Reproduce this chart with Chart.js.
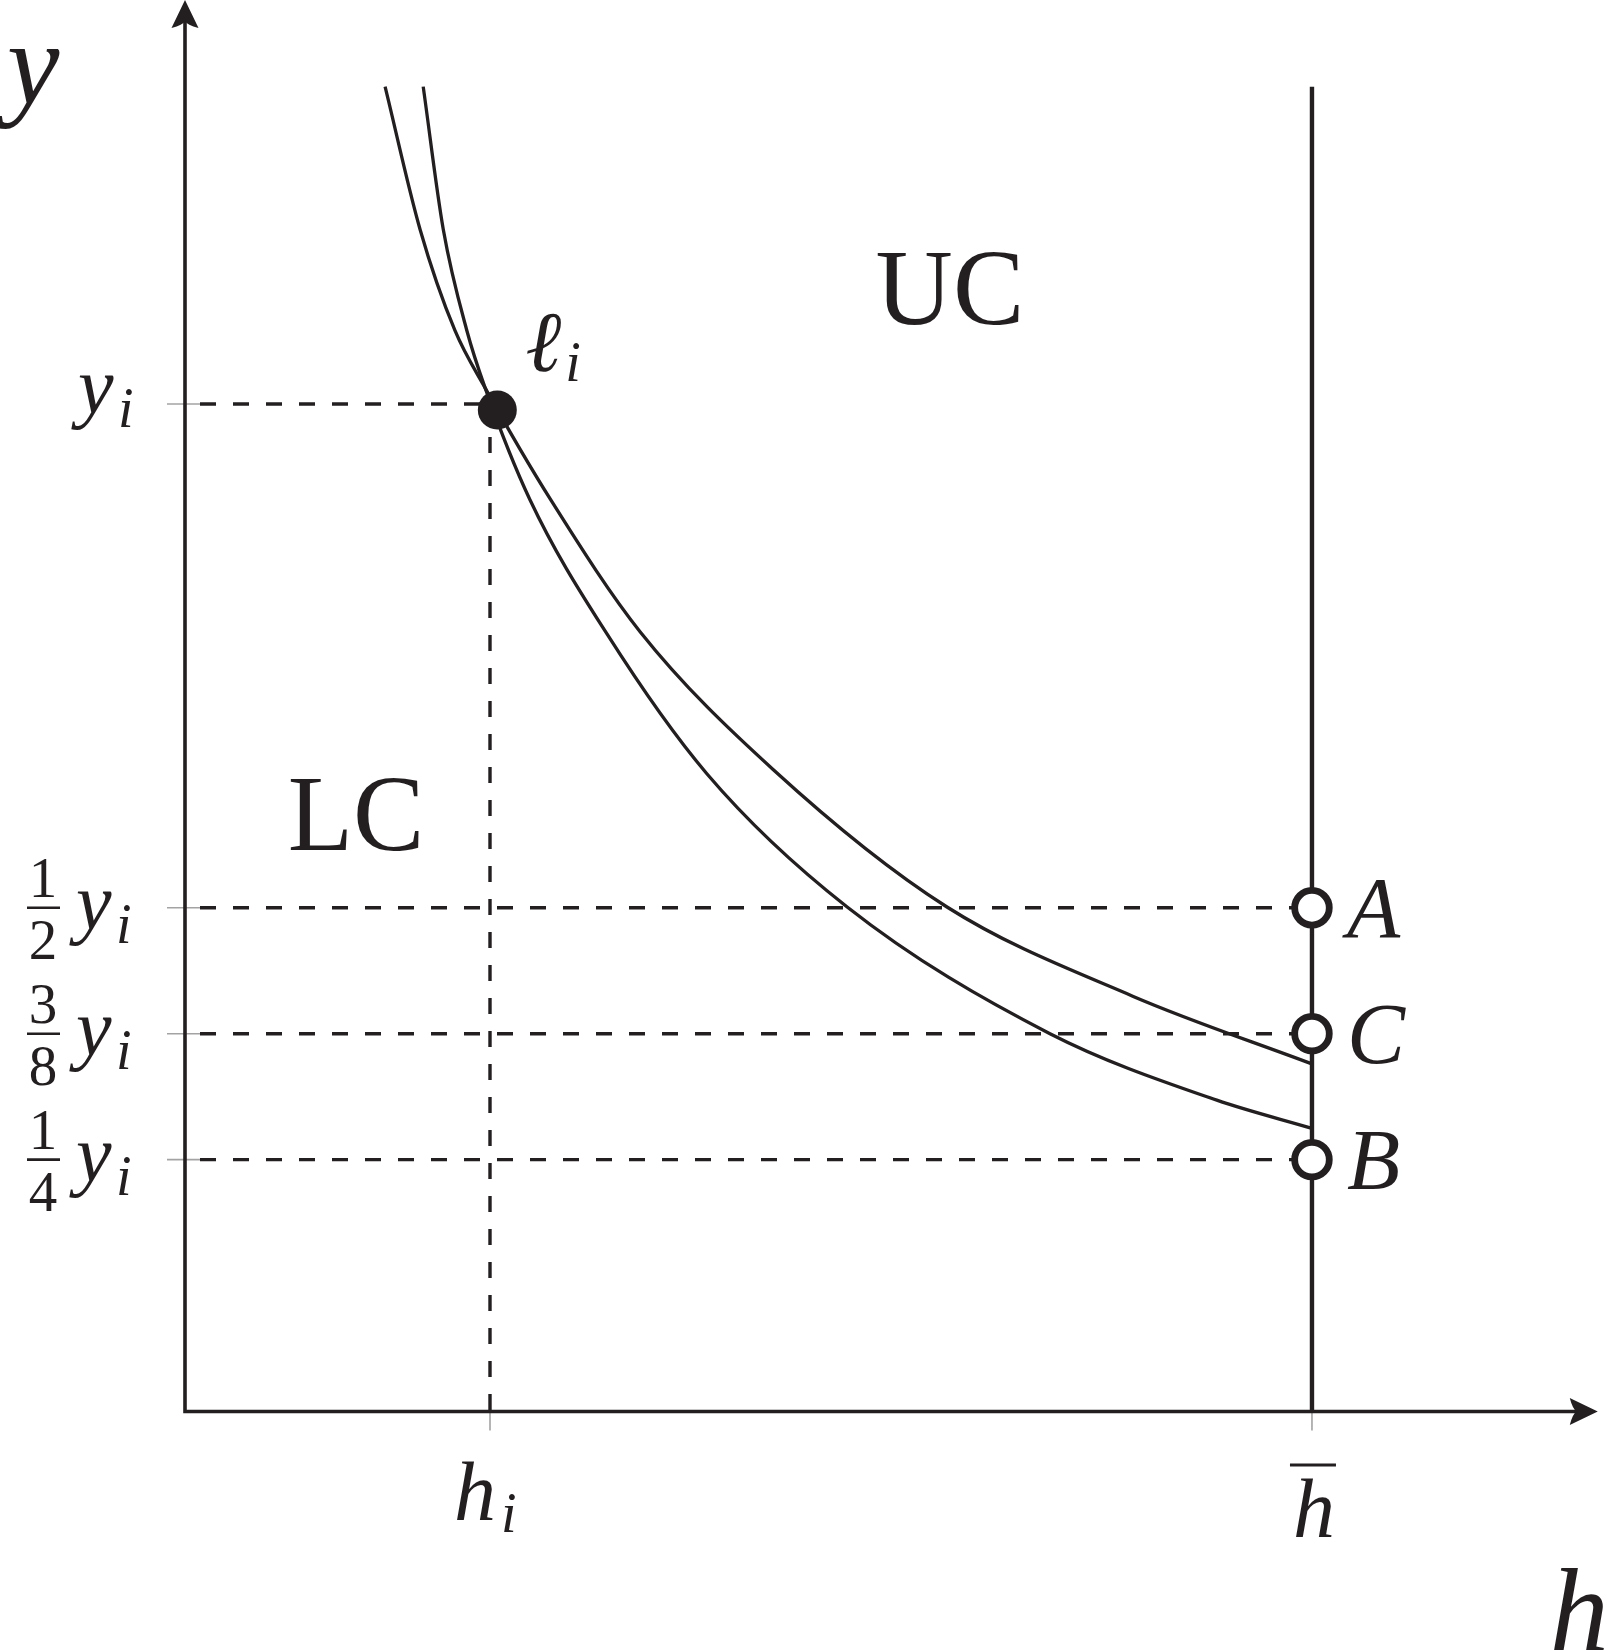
<!DOCTYPE html>
<html><head><meta charset="utf-8">
<script src="https://cdn.jsdelivr.net/npm/chart.js@4.4.1/dist/chart.umd.min.js"></script>
<style>html,body{margin:0;padding:0;background:#fff;}#wrap{width:1608px;height:1650px;position:relative;}</style>
</head><body><div id="wrap"><canvas id="c"></canvas></div>
<script>
// ---- data (h in units of h_i, y in units of y_i) ----
const upperCurveH = [0.656, 0.771, 0.885, 0.984, 1.203, 1.492, 1.929, 2.497, 3.109, 3.695];
const upperCurveY = [1.315, 1.173, 1.073, 1.016, 0.903, 0.774, 0.637, 0.501, 0.412, 0.345];
const lowerCurveH = [0.781, 0.847, 0.924, 0.984, 1.131, 1.383, 1.711, 2.170, 2.836, 3.383, 3.695];
const lowerCurveY = [1.315, 1.173, 1.073, 1.016, 0.905, 0.772, 0.633, 0.501, 0.375, 0.309, 0.281];
const hI = 1;
const yI = 1;
const hBar = 3.695;
const barTop = 1.315;
const yTickValues = [1, 0.5, 0.375, 0.25];
const yTickNumerators = [null, '1', '3', '1'];
const yTickDenominators = [null, '2', '8', '4'];
const hTickValues = [hI, hBar];
const hTickLabels = ['h', 'h'];
const hTickSubs = ['i', ''];
const markerValues = [0.5, 0.375, 0.25];
const markerNames = ['A', 'C', 'B'];
const pointLiH = [1.024];
const pointLiY = [0.994];
const regionNames = ['LC', 'UC'];
const regionH = [0.561, 2.508];
const regionY = [0.557, 1.079];
const axisEnds = {x: 4.632, y: 1.401};

const INK = '#231f20';
const SERIF = '"Liberation Serif", "DejaVu Serif", serif';
const MI = s => 'italic ' + s + 'px ' + SERIF;
const RM = s => s + 'px ' + SERIF;

const pts = (hs, ys) => hs.map((h, i) => ({x: h, y: ys[i]}));

const datasets = [
  {label: 'li', data: pts(pointLiH, pointLiY), pointRadius: 19.5, pointBackgroundColor: INK, pointBorderWidth: 0, showLine: false, order: 0},
  {label: 'markers', data: markerValues.map(v => ({x: hBar, y: v})), pointRadius: 17.3, pointBackgroundColor: '#ffffff', pointBorderColor: INK, pointBorderWidth: 6.8, showLine: false, order: 0},
  {label: 'upper', data: pts(upperCurveH, upperCurveY), showLine: true, borderColor: INK, borderWidth: 3.3, pointRadius: 0, cubicInterpolationMode: 'monotone', order: 2},
  {label: 'lower', data: pts(lowerCurveH, lowerCurveY), showLine: true, borderColor: INK, borderWidth: 3.3, pointRadius: 0, cubicInterpolationMode: 'monotone', order: 2},
  {label: 'hbar', data: [{x: hBar, y: 0}, {x: hBar, y: barTop}], showLine: true, borderColor: INK, borderWidth: 4.4, pointRadius: 0, order: 3},
  {label: 'dashYi', data: [{x: 0, y: yI}, {x: hI, y: yI}], showLine: true, borderColor: INK, borderWidth: 3.4, borderDash: [16, 17], borderDashOffset: 18, pointRadius: 0, order: 4},
  {label: 'dashHi', data: [{x: hI, y: yI}, {x: hI, y: 0}], showLine: true, borderColor: INK, borderWidth: 3.4, borderDash: [16, 17], pointRadius: 0, order: 4}
];
markerValues.forEach((v, i) => datasets.push({label: 'dash' + i, data: [{x: 0, y: v}, {x: hBar, y: v}], showLine: true, borderColor: INK, borderWidth: 3.4, borderDash: [16, 17], borderDashOffset: 18, pointRadius: 0, order: 4}));

function arrow(ctx, tx, ty, dx, dy) {
  const L = 28, W = 13.5, N = 7;
  const nx = -dy, ny = dx;
  ctx.beginPath();
  ctx.moveTo(tx, ty);
  ctx.lineTo(tx - L * dx + W * nx, ty - L * dy + W * ny);
  ctx.quadraticCurveTo(tx - (L - 3) * dx + 2 * nx, ty - (L - 3) * dy + 2 * ny, tx - (L - N) * dx, ty - (L - N) * dy);
  ctx.quadraticCurveTo(tx - (L - 3) * dx - 2 * nx, ty - (L - 3) * dy - 2 * ny, tx - L * dx - W * nx, ty - L * dy - W * ny);
  ctx.closePath();
  ctx.fill();
}

const decor = {
  id: 'decor',
  beforeDatasetsDraw(chart) {
    const ctx = chart.ctx, xs = chart.scales.x, ys = chart.scales.y;
    const x0 = xs.getPixelForValue(0), y0 = ys.getPixelForValue(0);
    const xTip = xs.getPixelForValue(axisEnds.x), yTip = ys.getPixelForValue(axisEnds.y);
    ctx.save();
    ctx.strokeStyle = '#a3a3a3'; ctx.lineWidth = 1.6;
    yTickValues.forEach(v => { const p = ys.getPixelForValue(v); ctx.beginPath(); ctx.moveTo(x0 - 18, p); ctx.lineTo(x0 + 15, p); ctx.stroke(); });
    hTickValues.forEach(v => { const p = xs.getPixelForValue(v); ctx.beginPath(); ctx.moveTo(p, y0 - 16); ctx.lineTo(p, y0 + 19); ctx.stroke(); });
    ctx.strokeStyle = INK; ctx.fillStyle = INK; ctx.lineWidth = 3.6; ctx.lineJoin = 'miter';
    ctx.beginPath(); ctx.moveTo(x0, yTip + 15); ctx.lineTo(x0, y0); ctx.lineTo(xTip - 15, y0); ctx.stroke();
    arrow(ctx, x0, yTip, 0, -1);
    arrow(ctx, xTip, y0, 1, 0);
    ctx.restore();
  },
  afterDatasetsDraw(chart) {
    const ctx = chart.ctx, xs = chart.scales.x, ys = chart.scales.y;
    const x0 = xs.getPixelForValue(0), y0 = ys.getPixelForValue(0);
    const xTip = xs.getPixelForValue(axisEnds.x), yTip = ys.getPixelForValue(axisEnds.y);
    ctx.save();
    ctx.fillStyle = INK; ctx.strokeStyle = INK; ctx.textBaseline = 'alphabetic';
    const T = (s, x, y, f, a) => { ctx.font = f; ctx.textAlign = a || 'left'; ctx.fillText(s, x, y); };
    // axis titles
    T('y', x0 - 178, yTip + 104, MI(118));
    T('h', xTip - 48, y0 + 238, MI(118));
    // y tick labels
    yTickValues.forEach((v, i) => {
      const p = ys.getPixelForValue(v);
      if (yTickNumerators[i] === null) {
        T('y', x0 - 107, p + 9, MI(80));
        T('i', x0 - 67, p + 23, MI(56));
      } else {
        T(yTickNumerators[i], x0 - 142, p - 11, RM(57), 'center');
        T(yTickDenominators[i], x0 - 142, p + 51, RM(57), 'center');
        ctx.lineWidth = 2.6; ctx.beginPath(); ctx.moveTo(x0 - 158, p); ctx.lineTo(x0 - 125, p); ctx.stroke();
        T('y', x0 - 109, p + 21.5, MI(80));
        T('i', x0 - 69, p + 35.5, MI(56));
      }
    });
    // h tick labels
    hTickValues.forEach((v, i) => {
      const p = xs.getPixelForValue(v);
      if (hTickSubs[i]) {
        T(hTickLabels[i], p - 36, y0 + 108.5, MI(84));
        T(hTickSubs[i], p + 11, y0 + 120.5, MI(56));
      } else {
        T(hTickLabels[i], p + 2, y0 + 125.5, MI(84), 'center');
        ctx.lineWidth = 3; ctx.beginPath(); ctx.moveTo(p - 22, y0 + 53.5); ctx.lineTo(p + 24, y0 + 53.5); ctx.stroke();
      }
    });
    // point label
    const lx = xs.getPixelForValue(pointLiH[0]), ly = ys.getPixelForValue(pointLiY[0]);
    T('\u2113', lx + 28, ly - 39, MI(86));
    T('i', lx + 68, ly - 29, MI(56));
    // marker labels
    const hb = xs.getPixelForValue(hBar);
    markerValues.forEach((v, i) => T(markerNames[i], hb + 35, ys.getPixelForValue(v) + 29, MI(87)));
    // regions
    regionNames.forEach((s, i) => T(s, xs.getPixelForValue(regionH[i]), ys.getPixelForValue(regionY[i]), RM(107), 'center'));
    ctx.restore();
  }
};

new Chart(document.getElementById('c'), {
  type: 'scatter',
  data: {datasets},
  options: {
    responsive: true, maintainAspectRatio: false, animation: false, events: [],
    layout: {padding: 0, autoPadding: false},
    plugins: {legend: {display: false}, tooltip: {enabled: false}, title: {display: false}},
    scales: {
      x: {type: 'linear', display: false, min: -185 / 305, max: (1608 - 185) / 305},
      y: {type: 'linear', display: false, min: -(1650 - 1411.5) / 1007.5, max: 1411.5 / 1007.5}
    }
  },
  plugins: [decor]
});
</script></body></html>
